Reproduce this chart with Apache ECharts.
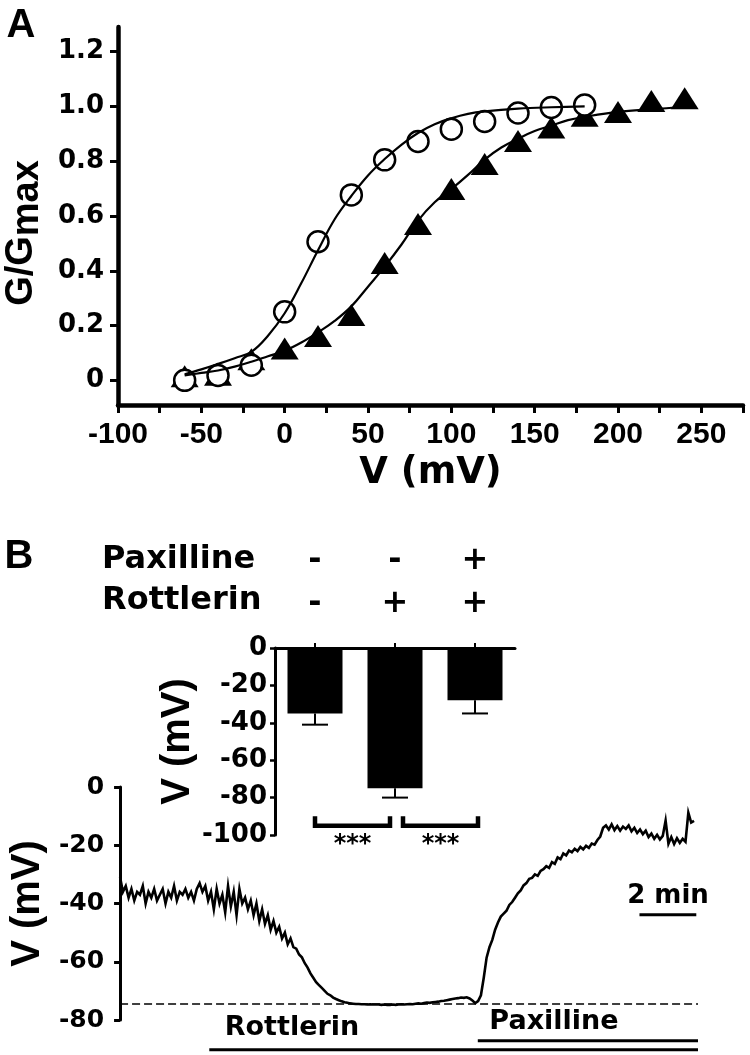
<!DOCTYPE html>
<html><head><meta charset="utf-8">
<script src="https://cdn.jsdelivr.net/npm/echarts@6/dist/echarts.min.js"></script>
<style>html,body{margin:0;padding:0;background:#fff}#c{width:750px;height:1055px}</style>
</head><body><div id="c"></div>
<script>
// ---------- Panel A data ----------
const ctrlV = [-60,-40,-20,0,20,40,60,80,100,120,140,160,180];
const ctrlG = [0.0,0.018,0.055,0.25,0.506,0.677,0.805,0.872,0.917,0.945,0.976,0.996,1.005];
const rottV = [-60,-40,-20,0,20,40,60,80,100,120,140,160,180,200,220,240];
const rottG = [0.015,0.02,0.077,0.116,0.162,0.239,0.428,0.571,0.699,0.79,0.874,0.923,0.966,0.98,1.02,1.03];
const ctrlFitV = [-60,-50,-40,-30,-20,-10,0,10,20,30,40,50,60,70,80,90,100,110,120,140,160,180];
const ctrlFitG = [0.022,0.04,0.06,0.081,0.104,0.163,0.245,0.355,0.475,0.588,0.673,0.748,0.808,0.86,0.903,0.935,0.957,0.973,0.982,0.992,0.997,1.0];
const rottFitV = [-60,-50,-40,-30,-20,-10,0,10,20,30,40,50,60,70,80,90,100,110,120,130,140,150,160,170,180,200,220,240];
const rottFitG = [0.018,0.027,0.036,0.05,0.068,0.088,0.108,0.138,0.175,0.217,0.27,0.342,0.415,0.495,0.583,0.65,0.698,0.75,0.806,0.85,0.882,0.91,0.93,0.95,0.962,0.98,0.99,0.998];
const yTicksA = [0,0.2,0.4,0.6,0.8,1.0,1.2];

// ---------- Panel B inset data ----------
const groups = ['control','rottlerin','rottlerin+paxilline'];
const paxRow = ['-','-','+'];
const rottRow = ['-','+','+'];
const barMeans = [-35,-75,-28];
const barErr = [6,5,7];
const sigPairs = [[0,1],[1,2]];
const sigText = '***';
const sigLevel = -95;
const sigTickTop = -90;

// ---------- Panel B trace data (mV, sampled every 0.1 min) ----------
const traceStep = 0.1;
const traceV = [
 -31,-36,-34,-38,-35,-39,-36,-37,-34,-40,
 -36,-38,-35,-39,-37,-35,-40,-36,-38,-34,
 -39,-36,-37,-35,-38,-36,-39,-35,-33,-36,
 -34,-39,-36,-42,-35,-40,-37,-43,-34,-41,
 -36,-44,-35,-40,-38,-42,-39,-44,-40,-46,
 -42,-47,-44,-49,-46,-50,-48,-52,-50,-54,
 -52,-55,-55.5,-57.5,-58.5,-60.5,-62,-64,-65.5,-67,
 -68,-69,-70,-71,-71.5,-72.3,-72.8,-73.2,-73.6,-73.9,
 -74.1,-74.3,-74.4,-74.5,-74.5,-74.6,-74.6,-74.7,-74.6,-74.7,
 -74.7,-74.7,-74.8,-74.7,-74.8,-74.8,-74.7,-74.8,-74.7,-74.6,
 -74.7,-74.6,-74.5,-74.6,-74.4,-74.3,-74.4,-74.2,-74.0,-74.1,
 -73.9,-73.8,-73.7,-73.5,-73.4,-73.2,-73.0,-72.8,-72.6,-72.5,
 -72.3,-72.4,-72.2,-72.6,-73.3,-74.2,-73.5,-71.5,-65.5,-58.6,
 -55,-52.5,-49,-46.5,-44.5,-43.5,-42.5,-40.5,-39.5,-38,
 -36.5,-35.5,-33.8,-33,-31.5,-31.2,-30,-30.5,-28.8,-28.2,
 -27.2,-27.8,-25.8,-26.4,-24.2,-24.8,-22.8,-23.5,-21.8,-22.4,
 -21.2,-22.0,-20.6,-21.4,-20.2,-20.9,-19.4,-19.8,-18.2,-17.0,
 -14.0,-13.2,-14.6,-12.8,-14.8,-13.4,-15.0,-13.6,-14.4,-13.2,
 -15.2,-14.0,-15.8,-14.6,-16.2,-15.0,-17.2,-16.0,-17.8,-16.4,
 -18.0,-16.8,-11.5,-19.5,-17.2,-19.6,-17.6,-19.2,-17.8,-18.8,
 -8.8,-12.2,-11.6
];
const traceEnd = 20.34;          // min
const restPotential = -74.5;     // dashed reference (mV)
const rottlerinStart = 3.14;     // min
const paxillineStart = 12.59;    // min
const rottlerinBarLevel = -90.2; // mV (drawn below the axis)
const paxillineBarLevel = -87.1;
const scaleBarT = [18.28, 20.28];// 2 min
const scaleBarLevel = -43.9;

const BLK = '#000';
const DJ = 'DejaVu Sans';
const LS = 'Liberation Sans';

const chart = echarts.init(document.getElementById('c'), null, {renderer:'canvas'});

const option = {
  animation: false,
  backgroundColor: '#fff',
  textStyle: {fontFamily: DJ, fontWeight: 'bold', color: BLK},
  grid: [
    {left:118, top:27, width:625, height:378},
    {left:275, top:648, width:240, height:187},
    {left:108, top:787, width:590, height:233}
  ],
  xAxis: [
    {gridIndex:0, type:'value', min:-100, max:275, interval:25,
     axisLine:{show:true, onZero:false, lineStyle:{color:BLK, width:4.5}},
     axisTick:{show:true, length:8, lineStyle:{color:BLK, width:3}},
     axisLabel:{formatter: v => (v % 50 === 0 ? String(v) : ''), fontFamily:LS, fontWeight:'bold', fontSize:30, color:BLK, margin:15},
     splitLine:{show:false},
     name:'V (mV)', nameLocation:'middle', nameGap:50,
     nameTextStyle:{fontFamily:DJ, fontWeight:'bold', fontSize:37, color:BLK}},
    {gridIndex:1, type:'category', data:groups, position:'top',
     axisLine:{show:true, onZero:false, lineStyle:{color:BLK, width:3}},
     axisTick:{show:true, alignWithLabel:true, length:5, lineStyle:{color:BLK, width:2}},
     axisLabel:{formatter:(v,i)=> paxRow[i] + '\n' + rottRow[i], fontFamily:DJ, fontWeight:'bold', fontSize:32, lineHeight:43, color:BLK, margin:23},
     splitLine:{show:false}},
    {gridIndex:2, type:'value', min:0, max:traceEnd, show:false}
  ],
  yAxis: [
    {gridIndex:0, type:'value', min:-0.09, max:1.29,
     axisLine:{show:true, onZero:false, lineStyle:{color:BLK, width:4.5}},
     axisTick:{show:true, length:8, customValues:yTicksA, lineStyle:{color:BLK, width:3}},
     axisLabel:{customValues:yTicksA, formatter: v => (v === 0 ? '0' : v.toFixed(1)), fontFamily:DJ, fontWeight:'bold', fontSize:26, color:BLK, margin:14},
     splitLine:{show:false}},
    {gridIndex:1, type:'value', min:-100, max:0, interval:20,
     axisLine:{show:true, onZero:false, lineStyle:{color:BLK, width:3}},
     axisTick:{show:true, length:5, lineStyle:{color:BLK, width:2.5}},
     axisLabel:{fontFamily:DJ, fontWeight:'bold', fontSize:26, color:BLK, margin:8},
     splitLine:{show:false},
     name:'V (mV)', nameLocation:'middle', nameRotate:90, nameGap:67,
     nameTextStyle:{fontFamily:LS, fontWeight:'bold', fontSize:40, color:BLK}},
    {gridIndex:2, type:'value', min:-80, max:0, interval:20,
     axisLine:{show:true, onZero:false, lineStyle:{color:BLK, width:3}},
     axisTick:{show:true, length:6, lineStyle:{color:BLK, width:3}},
     axisLabel:{fontFamily:DJ, fontWeight:'bold', fontSize:25, color:BLK, margin:16},
     splitLine:{show:false},
     name:'V (mV)', nameLocation:'middle', nameRotate:90, nameGap:65,
     nameTextStyle:{fontFamily:LS, fontWeight:'bold', fontSize:40, color:BLK}}
  ],
  series: [
    // Panel A
    {type:'scatter', xAxisIndex:0, yAxisIndex:0, data: rottV.map((v,i)=>[v, rottG[i]]),
     symbol:'triangle', symbolSize:[28,22], itemStyle:{color:BLK, opacity:1}, z:2},
    {type:'scatter', xAxisIndex:0, yAxisIndex:0, data: ctrlV.map((v,i)=>[v, ctrlG[i]]),
     symbol:'circle', symbolSize:21, itemStyle:{color:'#fff', borderColor:BLK, borderWidth:2.5, opacity:1}, z:3},
    {type:'line', xAxisIndex:0, yAxisIndex:0, data: ctrlFitV.map((v,i)=>[v, ctrlFitG[i]]),
     smooth:0.4, showSymbol:false, symbol:'none', lineStyle:{color:BLK, width:2.2}, z:4},
    {type:'line', xAxisIndex:0, yAxisIndex:0, data: rottFitV.map((v,i)=>[v, rottFitG[i]]),
     smooth:0.4, showSymbol:false, symbol:'none', lineStyle:{color:BLK, width:2.2}, z:4},
    // Panel B inset bars
    {type:'bar', xAxisIndex:1, yAxisIndex:1, data: barMeans, barWidth:55, itemStyle:{color:BLK}, z:2},
    {type:'custom', xAxisIndex:1, yAxisIndex:1, z:3,
     data: barMeans.map((m,i)=>[i, m, barErr[i]]),
     renderItem:(params, api) => {
       const i = api.value(0), m = api.value(1), e = api.value(2);
       const p0 = api.coord([i, m]);
       const p1 = api.coord([i, m - e]);
       const hw = 13;
       return {type:'group', children:[
         {type:'line', shape:{x1:p0[0], y1:p0[1], x2:p1[0], y2:p1[1]}, style:{stroke:BLK, lineWidth:2}},
         {type:'line', shape:{x1:p1[0]-hw, y1:p1[1], x2:p1[0]+hw, y2:p1[1]}, style:{stroke:BLK, lineWidth:2}}
       ]};
     }},
    {type:'custom', xAxisIndex:1, yAxisIndex:1, z:3,
     data: sigPairs.map(p => [p[0], sigLevel, p[1]]),
     renderItem:(params, api) => {
       const a = api.coord([api.value(0), api.value(1)]);
       const b = api.coord([api.value(2), api.value(1)]);
       const top = api.coord([api.value(0), sigTickTop])[1];
       const x1 = a[0] + (params.dataIndex === 0 ? 0 : 8);
       const x2 = b[0] + (params.dataIndex === 0 ? -5 : 3);
       return {type:'group', children:[
         {type:'polyline', shape:{points:[[x1,top],[x1,a[1]],[x2,a[1]],[x2,top]]},
          style:{stroke:BLK, lineWidth:4.5, fill:null, lineJoin:'miter'}},
         {type:'text', style:{text:sigText, x:(x1+x2)/2, y:a[1]+19, textAlign:'center', textVerticalAlign:'middle', align:'center', verticalAlign:'middle',
           font:'bold 24px "DejaVu Sans"', fill:BLK}}
       ]};
     }},
    // Panel B trace
    {type:'line', xAxisIndex:2, yAxisIndex:2, data: traceV.map((v,i)=>[+(i*traceStep).toFixed(2), v]),
     showSymbol:false, symbol:'none', lineStyle:{color:BLK, width:2.6, join:'miter'}, z:3},
    {type:'line', xAxisIndex:2, yAxisIndex:2, data:[[0, restPotential],[traceEnd, restPotential]],
     showSymbol:false, symbol:'none', lineStyle:{color:BLK, width:1.5, type:[8,4]}, z:2},
    {type:'line', xAxisIndex:2, yAxisIndex:2, data:[[scaleBarT[0], scaleBarLevel],[scaleBarT[1], scaleBarLevel]],
     showSymbol:false, symbol:'none', lineStyle:{color:BLK, width:3}, z:2},
    {type:'line', xAxisIndex:2, yAxisIndex:2, clip:false, data:[[rottlerinStart, rottlerinBarLevel],[traceEnd, rottlerinBarLevel]],
     showSymbol:false, symbol:'none', lineStyle:{color:BLK, width:3}, z:2},
    {type:'line', xAxisIndex:2, yAxisIndex:2, clip:false, data:[[paxillineStart, paxillineBarLevel],[traceEnd, paxillineBarLevel]],
     showSymbol:false, symbol:'none', lineStyle:{color:BLK, width:3}, z:2}
  ],
  graphic: [
    {type:'text', x:21, y:26, style:{text:'A', font:'bold 40px "Liberation Sans"', fill:BLK, textAlign:'center', textVerticalAlign:'middle', align:'center', verticalAlign:'middle'}},
    {type:'text', x:19, y:557, style:{text:'B', font:'bold 40px "Liberation Sans"', fill:BLK, textAlign:'center', textVerticalAlign:'middle', align:'center', verticalAlign:'middle'}},
    {type:'text', x:22, y:233, rotation:Math.PI/2,
     style:{text:'{a|G/G}{b|max}', x:0, y:0, textAlign:'center', textVerticalAlign:'middle', align:'center', verticalAlign:'middle', fill:BLK,
       rich:{a:{fontFamily:LS, fontWeight:'bold', fontSize:38, lineHeight:38, verticalAlign:'top', fill:BLK},
             b:{fontFamily:LS, fontWeight:'bold', fontSize:38, lineHeight:38, padding:[6,0,0,0], verticalAlign:'top', fill:BLK}}}},
    {type:'text', x:102, y:560, style:{text:'Paxilline', font:'bold 32px "DejaVu Sans"', fill:BLK, textAlign:'left', textVerticalAlign:'middle', align:'left', verticalAlign:'middle'}},
    {type:'text', x:102, y:601, style:{text:'Rottlerin', font:'bold 32px "DejaVu Sans"', fill:BLK, textAlign:'left', textVerticalAlign:'middle', align:'left', verticalAlign:'middle'}},
    {type:'text', x:292, y:1028, style:{text:'Rottlerin', font:'bold 27px "DejaVu Sans"', fill:BLK, textAlign:'center', textVerticalAlign:'middle', align:'center', verticalAlign:'middle'}},
    {type:'text', x:554, y:1022, style:{text:'Paxilline', font:'bold 27px "DejaVu Sans"', fill:BLK, textAlign:'center', textVerticalAlign:'middle', align:'center', verticalAlign:'middle'}},
    {type:'text', x:668, y:896, style:{text:'2 min', font:'bold 26px "DejaVu Sans"', fill:BLK, textAlign:'center', textVerticalAlign:'middle', align:'center', verticalAlign:'middle'}}
  ]
};
chart.setOption(option);
</script>
</body></html>
